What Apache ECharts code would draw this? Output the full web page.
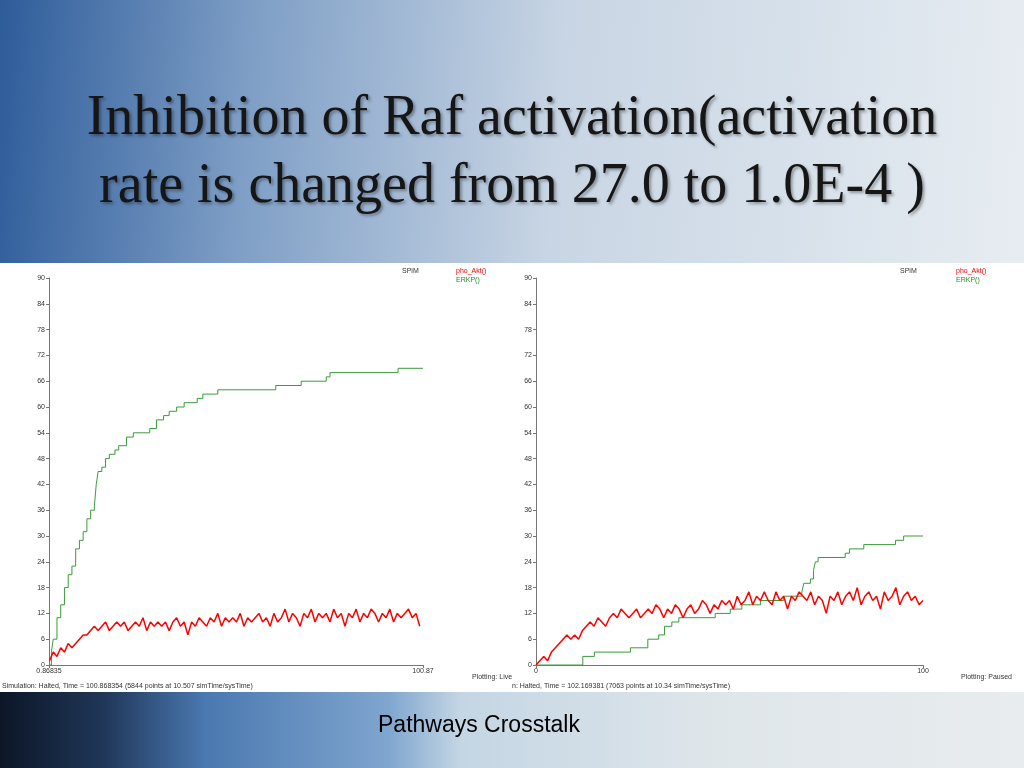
<!DOCTYPE html>
<html lang="en">
<head>
<meta charset="UTF-8">
<title>Inhibition of Raf activation</title>
<style>
body,html{width:100%;height:100%;margin:0;padding:0;}
#container{width:1024px;height:768px;}
</style>
</head>
<body>
<div id="container"></div>
<script src="https://cdn.jsdelivr.net/npm/echarts@6/dist/echarts.min.js"></script>
<script>
// left panel: ERKP() steps [time, value]
var leftErk = [[0.9,0],[1.5,3],[2,6],[3,11],[4,14],[5,18],[6,21],[7,23],[8,27],[9,29],[10,31],[11,34],[12,36],[13,37],[13.5,42],[14,45],[15,46],[16,48],[17,49],[18.5,50],[19.5,51],[21.6,53],[23.4,54],[27.8,55],[29.6,57],[31.5,58],[33,59],[35,60],[37,61],[40.5,62],[42,63],[46,64],[61.5,65],[68.3,66],[75,67],[76,68],[94.2,69],[100.87,69]];
// left panel: pho_Akt() sampled at t = 1..100
var leftAkt = [1,3,2,4,3,5,4,5,6,7, 7,8,9,8,9,10,8,9,10,9, 10,8,9,10,9,11,8,10,9,10, 9,10,8,10,11,9,10,7,10,9,
  11,10,9,11,10,12,9,11,10,11, 10,12,9,11,10,11,12,10,11,9, 12,10,11,13,10,12,11,9,12,11, 13,10,12,11,12,10,13,11,12,9,
  12,11,13,10,12,11,13,12,10,12, 11,13,10,12,11,12,13,11,12,9];
// right panel: ERKP() steps
var rightErk = [[0,0],[12.1,2],[15.1,3],[24.4,4],[28.9,6],[31.7,7],[33.2,9],[35.1,10],[36.9,11],[46.3,12],[50.2,13],[53.2,14],[58,15],[64,16],[68.7,17],[69.2,19],[70.9,20],[71.7,22],[72.2,24],[72.9,25],[79.9,26],[81,27],[84.7,28],[92.9,29],[95,30],[100,30]];
// right panel: pho_Akt() sampled at t = 0..100
var rightAkt = [0,1,2,1,3,4,5,6,7,6, 7,6,8,9,10,9,11,10,9,11, 12,11,13,12,11,12,13,11,12,13, 12,14,13,11,13,12,14,13,11,13,
  14,12,13,15,14,12,14,13,15,14, 15,13,16,14,15,17,14,16,15,17, 15,14,17,15,16,13,16,15,17,16, 15,17,14,16,15,12,16,15,17,14,
  16,17,15,18,14,16,17,15,16,13, 17,15,16,18,14,16,17,15,16,14,15];
var yTicks = [0, 90, 6];
var leftRange = [0.86835, 100.87];
var rightRange = [0, 100];

function pairs(vals, t0) { return vals.map(function (v, i) { return [t0 + i, v]; }); }

function xAx(idx, r, names) {
  return {
    type: 'value', gridIndex: idx, min: r[0], max: r[1],
    axisLine: {lineStyle: {color: '#777'}},
    axisTick: {customValues: r, length: 3, lineStyle: {color: '#777'}},
    axisLabel: {customValues: r, formatter: function (v) { return names[r.indexOf(v)]; }, fontSize: 7, color: '#333', margin: 3},
    splitLine: {show: false}
  };
}
function yAx(idx) {
  return {
    type: 'value', gridIndex: idx, min: yTicks[0], max: yTicks[1], interval: yTicks[2],
    axisLine: {show: true, lineStyle: {color: '#777'}},
    axisTick: {show: true, length: 3, lineStyle: {color: '#777'}},
    axisLabel: {fontSize: 7, color: '#333', margin: 4},
    splitLine: {show: false}
  };
}
function txt(x, y, s, color, size, font) {
  return {type: 'text', left: x, top: y, style: {text: s, fill: color || '#222', font: (size || 7) + 'px ' + (font || 'Liberation Sans')}};
}

var option = {
  animation: false,
  title: {
    text: 'Inhibition of Raf activation(activation\nrate is changed from 27.0 to 1.0E-4 )',
    left: 'center', top: 80,
    textStyle: {fontFamily: 'Liberation Serif', fontSize: 56, fontWeight: 'normal', color: '#161616', lineHeight: 68,
      textShadowColor: 'rgba(0,0,0,0.35)', textShadowBlur: 3, textShadowOffsetX: 2, textShadowOffsetY: 2}
  },
  graphic: [
    {type: 'rect', z: -10, shape: {x: 0, y: 0, width: 1024, height: 263},
      style: {fill: new echarts.graphic.LinearGradient(0, 0, 1, 0.3, [
        {offset: 0, color: '#2e5c9a'}, {offset: 0.25, color: '#7f9fc6'}, {offset: 0.55, color: '#c8d5e4'}, {offset: 1, color: '#e6ecf1'}])}},
    {type: 'rect', z: -10, shape: {x: 0, y: 263, width: 1024, height: 430}, style: {fill: '#ffffff'}},
    {type: 'rect', z: -10, shape: {x: 0, y: 692, width: 1024, height: 76},
      style: {fill: new echarts.graphic.LinearGradient(0, 0, 1, 0, [
        {offset: 0, color: '#0c1626'}, {offset: 0.1, color: '#1f3658'}, {offset: 0.2, color: '#4a78b0'}, {offset: 0.38, color: '#80a6cf'},
        {offset: 0.45, color: '#c4d6e4'}, {offset: 0.7, color: '#dfe6ea'}, {offset: 1, color: '#e8ecee'}])}},
    txt(378, 714, 'Pathways Crosstalk', '#000', 23, 'Liberation Sans'),
    txt(402, 268, 'SPiM', '#333', 7),
    txt(456, 268, 'pho_Akt()', '#e00', 7),
    txt(456, 277, 'ERKP()', '#2a8a2a', 7),
    txt(472, 674, 'Plotting: Live', '#333', 7),
    txt(2, 683, 'Simulation: Halted, Time = 100.868354 (5844 points at 10.507 simTime/sysTime)', '#333', 7),
    txt(900, 268, 'SPiM', '#333', 7),
    txt(956, 268, 'pho_Akt()', '#e00', 7),
    txt(956, 277, 'ERKP()', '#2a8a2a', 7),
    txt(961, 674, 'Plotting: Paused', '#333', 7),
    txt(512, 683, 'n: Halted, Time = 102.169381 (7063 points at 10.34 simTime/sysTime)', '#333', 7)
  ],
  grid: [
    {left: 49, right: 601, top: 278, bottom: 103},
    {left: 536, right: 101, top: 278, bottom: 103}
  ],
  xAxis: [xAx(0, leftRange, ['0.86835', '100.87']), xAx(1, rightRange, ['0', '100'])],
  yAxis: [yAx(0), yAx(1)],
  series: [
    {name: 'ERKP()', type: 'line', step: 'end', xAxisIndex: 0, yAxisIndex: 0, data: leftErk, symbol: 'none', lineStyle: {color: '#3c9a3c', width: 1}},
    {name: 'pho_Akt()', type: 'line', xAxisIndex: 0, yAxisIndex: 0, data: pairs(leftAkt, 1), symbol: 'none', lineStyle: {color: '#ff0000', width: 1.5}},
    {name: 'ERKP()', type: 'line', step: 'end', xAxisIndex: 1, yAxisIndex: 1, data: rightErk, symbol: 'none', lineStyle: {color: '#3c9a3c', width: 1}},
    {name: 'pho_Akt()', type: 'line', xAxisIndex: 1, yAxisIndex: 1, data: pairs(rightAkt, 0), symbol: 'none', lineStyle: {color: '#ff0000', width: 1.5}}
  ]
};
var chart = echarts.init(document.getElementById('container'));
chart.setOption(option);
</script>
</body>
</html>
